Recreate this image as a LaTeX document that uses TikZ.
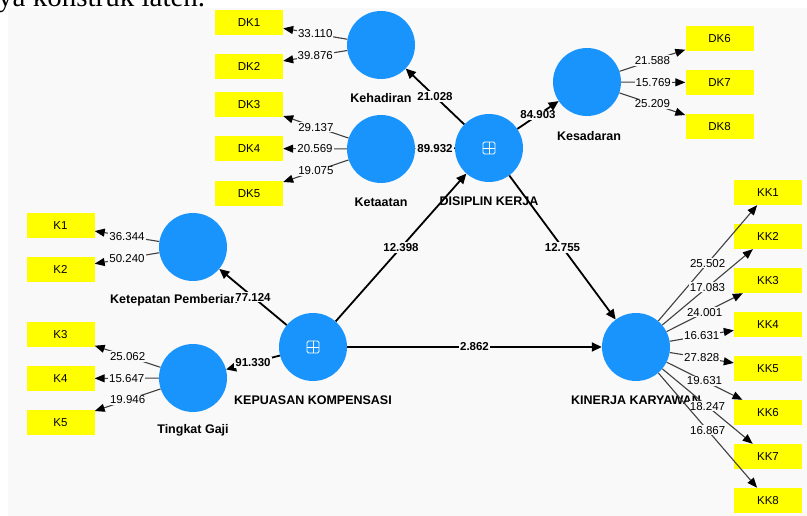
\documentclass[tikz,border=0pt]{standalone}
\usepackage{fontspec}
\setmainfont{Liberation Sans}
\newfontfamily\docfont{Liberation Serif}
\usetikzlibrary{arrows.meta}
\definecolor{plsblue}{RGB}{24,148,252}
\definecolor{plsyellow}{RGB}{255,255,0}
\definecolor{plsback}{RGB}{249,249,249}
\begin{document}
\begin{tikzpicture}[x=1pt,y=-1pt,
	latent/.style={circle,fill=plsblue,minimum size=68pt,inner sep=0pt},
	indicator/.style={fill=plsyellow,minimum width=68pt,minimum height=25pt,inner sep=0pt,font=\fontsize{11.5}{12}\selectfont},
	lname/.style={inner sep=1pt,font=\bfseries\fontsize{12.5}{13}\selectfont},
	inner/.style={line width=1.8pt,-{Triangle[length=10pt,width=9pt]}},
	outer/.style={line width=1.1pt,draw=black!75,-{Triangle[length=10pt,width=8pt,color=black]}},
	coef/.style={fill=plsback,inner sep=1pt,font=\bfseries\fontsize{11.5}{12}\selectfont},
	weight/.style={fill=plsback,inner sep=1pt,font=\fontsize{11.5}{12}\selectfont}]
		\useasboundingbox (0,0) rectangle (807,516);
		\clip (0,0) rectangle (807,516);
		%page
		\fill[white] (0,0) rectangle (807,516);
		\node[anchor=base west,inner sep=0pt,font=\docfont\fontsize{29}{30}\selectfont] (caption) at (-2,7) {ya konstruk laten.};
		\fill[plsback] (8,8) rectangle (807,516);
		%latent variables
		\node[latent] (kehadiran) at (381,45) {};
		\node[latent] (ketaatan) at (381,149) {};
		\node[latent] (disiplin) at (489,148) {};
		\node[latent] (kesadaran) at (587,82) {};
		\node[latent] (ketepatan) at (193,247) {};
		\node[latent] (gaji) at (193,378) {};
		\node[latent] (kepuasan) at (313,347) {};
		\node[latent] (kinerja) at (636,347) {};
		\draw[white,line width=0.8pt,rounded corners=1.5pt] (disiplin) ++(-6,-6) rectangle ++(12,12);
		\draw[white,line width=0.8pt] (disiplin) ++(-6,0) -- ++(12,0) (disiplin) ++(0,-6) -- ++(0,12);
		\draw[white,line width=0.8pt,rounded corners=1.5pt] (kepuasan) ++(-6,-6) rectangle ++(12,12);
		\draw[white,line width=0.8pt] (kepuasan) ++(-6,0) -- ++(12,0) (kepuasan) ++(0,-6) -- ++(0,12);
		\node[lname] (lkehadiran) at (381,98) {Kehadiran};
		\node[lname] (lketaatan) at (381,202) {Ketaatan};
		\node[lname] (ldisiplin) at (489,201) {DISIPLIN KERJA};
		\node[lname] (lkesadaran) at (589,136) {Kesadaran};
		\node[lname,anchor=west] (lketepatan) at (109,300) {Ketepatan Pemberian};
		\node[lname] (lgaji) at (193,430) {Tingkat Gaji};
		\node[lname] (lkepuasan) at (313,400) {KEPUASAN KOMPENSASI};
		\node[lname] (lkinerja) at (636,400) {KINERJA KARYAWAN};
		%indicators
		\node[indicator] (dk1) at (249,22.5) {DK1};
		\node[indicator] (dk2) at (249,66.5) {DK2};
		\node[indicator] (dk3) at (249,104.5) {DK3};
		\node[indicator] (dk4) at (249,148.5) {DK4};
		\node[indicator] (dk5) at (249,193.5) {DK5};
		\node[indicator] (dk6) at (719.5,38.5) {DK6};
		\node[indicator] (dk7) at (719.5,82.5) {DK7};
		\node[indicator] (dk8) at (719.5,126.5) {DK8};
		\node[indicator] (k1) at (60.5,225.5) {K1};
		\node[indicator] (k2) at (60.5,269.5) {K2};
		\node[indicator] (k3) at (60.5,334.5) {K3};
		\node[indicator] (k4) at (60.5,378.5) {K4};
		\node[indicator] (k5) at (60.5,422.5) {K5};
		\node[indicator] (kk1) at (768,192.5) {KK1};
		\node[indicator] (kk2) at (768,236.5) {KK2};
		\node[indicator] (kk3) at (768,280.5) {KK3};
		\node[indicator] (kk4) at (768,324.5) {KK4};
		\node[indicator] (kk5) at (768,368.5) {KK5};
		\node[indicator] (kk6) at (768,412.5) {KK6};
		\node[indicator] (kk7) at (768,456.5) {KK7};
		\node[indicator] (kk8) at (768,500.5) {KK8};
		%loadings
		\draw[outer] (kehadiran) -- node[weight]{33.110} (dk1);
		\draw[outer] (kehadiran) -- node[weight]{39.876} (dk2);
		\draw[outer] (ketaatan) -- node[weight]{29.137} (dk3);
		\draw[outer] (ketaatan) -- node[weight]{20.569} (dk4);
		\draw[outer] (ketaatan) -- node[weight]{19.075} (dk5);
		\draw[outer] (kesadaran) -- node[weight]{21.588} (dk6);
		\draw[outer] (kesadaran) -- node[weight]{15.769} (dk7);
		\draw[outer] (kesadaran) -- node[weight]{25.209} (dk8);
		\draw[outer] (ketepatan) -- node[weight]{36.344} (k1);
		\draw[outer] (ketepatan) -- node[weight]{50.240} (k2);
		\draw[outer] (gaji) -- node[weight]{25.062} (k3);
		\draw[outer] (gaji) -- node[weight]{15.647} (k4);
		\draw[outer] (gaji) -- node[weight]{19.946} (k5);
		\draw[outer] (kinerja) -- node[weight]{25.502} (kk1);
		\draw[outer] (kinerja) -- node[weight]{17.083} (kk2);
		\draw[outer] (kinerja) -- node[weight]{24.001} (kk3);
		\draw[outer] (kinerja) -- node[weight]{16.631} (kk4);
		\draw[outer] (kinerja) -- node[weight]{27.828} (kk5);
		\draw[outer] (kinerja) -- node[weight]{19.631} (kk6);
		\draw[outer] (kinerja) -- node[weight]{18.247} (kk7);
		\draw[outer] (kinerja) -- node[weight]{16.867} (kk8);
		%paths
		\draw[inner] (disiplin) -- node[coef]{21.028} (kehadiran);
		\draw[inner] (disiplin) -- node[coef]{89.932} (ketaatan);
		\draw[inner] (disiplin) -- node[coef]{84.903} (kesadaran);
		\draw[inner] (kepuasan) -- node[coef]{77.124} (ketepatan);
		\draw[inner] (kepuasan) -- node[coef]{91.330} (gaji);
		\draw[inner] (kepuasan) -- node[coef]{12.398} (disiplin);
		\draw[inner] (disiplin) -- node[coef]{12.755} (kinerja);
		\draw[inner] (kepuasan) -- node[coef]{2.862} (kinerja);
	\end{tikzpicture}
\end{document}
